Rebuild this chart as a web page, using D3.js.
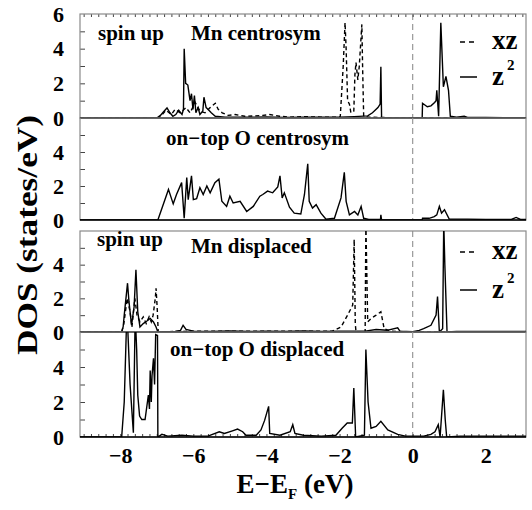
<!DOCTYPE html>
<html><head><meta charset="utf-8">
<script src="https://cdn.jsdelivr.net/npm/d3@7"></script>
<style>
html,body{margin:0;padding:0;background:#fff;}
svg{display:block;font-family:"Liberation Serif","Times New Roman",serif;font-weight:bold;}
</style></head>
<body>
<svg id="chart" width="532" height="510"></svg>
<script>
// ---------- DATA (energy in eV, DOS in states/eV) ----------
const xTickLabels = [-8, -6, -4, -2, 0, 2];
const yTickLabels = [0, 2, 4, 6];
const seriesNames = ["xz", "z2"];

// Panel 1: Mn centrosym, spin up
const mnCentroZ2 = [[-9.1,0],[-7.0,0],[-6.9,0.15],[-6.82,0.35],[-6.72,0.58],[-6.64,0.3],[-6.56,0.1],[-6.48,0.2],[-6.40,0.45],[-6.31,0.2],[-6.27,0.5],[-6.25,4.0],[-6.21,2.0],[-6.15,1.9],[-6.09,1.0],[-6.05,1.4],[-6.01,0.5],[-5.97,1.3],[-5.93,0.3],[-5.87,0.6],[-5.82,0.2],[-5.74,0.4],[-5.71,1.2],[-5.65,0.6],[-5.60,0.5],[-5.51,0.3],[-5.40,0.1],[-5.13,0.05],[-4.6,0.04],[-4.0,0.06],[-3.5,0.03],[-3.0,0.05],[-2.5,0.04],[-2.0,0.05],[-1.6,0.08],[-1.23,0.12],[-1.1,0.3],[-0.95,0.6],[-0.89,0.8],[-0.87,2.95],[-0.85,0],[0.26,0],[0.27,0.85],[0.4,0.65],[0.5,0.7],[0.6,0.9],[0.64,1.0],[0.66,1.6],[0.71,0.1],[0.77,5.5],[0.84,1.8],[0.91,2.4],[0.98,1.6],[1.03,0.1],[1.2,0.05],[1.41,0.1],[1.5,0.03],[2.0,0.03],[2.5,0.02],[3.1,0.02]];
const mnCentroXZ = [[-9.1,0],[-6.95,0],[-6.85,0.2],[-6.75,0.45],[-6.6,0.2],[-6.5,0.5],[-6.36,0.3],[-6.2,0.6],[-6.09,0.3],[-5.95,0.9],[-5.82,0.4],[-5.68,0.3],[-5.54,0.6],[-5.40,0.85],[-5.32,0.5],[-5.21,0.3],[-5.05,0.15],[-4.86,0.2],[-4.59,0.1],[-4.31,0.12],[-4.10,0.15],[-3.91,0.2],[-3.64,0.1],[-3.37,0.05],[-3.0,0.08],[-2.5,0.05],[-2.0,0.05],[-1.98,0.1],[-1.9,3.0],[-1.85,5.5],[-1.82,4.0],[-1.78,1.0],[-1.73,0.8],[-1.69,0.3],[-1.61,0.4],[-1.58,2.5],[-1.55,3.2],[-1.50,2.2],[-1.46,3.0],[-1.39,5.4],[-1.37,3.0],[-1.34,0.1],[-1.2,0.05],[-0.9,0.03],[0,0],[3.1,0]];

// Panel 2: on-top O centrosym
const oCentro = [[-9.1,0],[-6.97,0],[-6.68,1.8],[-6.55,0.95],[-6.46,1.5],[-6.32,2.2],[-6.25,0.1],[-6.18,2.5],[-6.14,1.2],[-6.05,2.6],[-6.00,1.2],[-5.91,1.25],[-5.82,1.9],[-5.73,1.5],[-5.63,2.0],[-5.54,1.6],[-5.41,2.2],[-5.30,2.4],[-5.22,1.1],[-5.09,0.8],[-5.00,1.4],[-4.91,1.0],[-4.72,1.1],[-4.54,0.5],[-4.36,0.8],[-4.18,1.4],[-4.10,1.5],[-3.97,1.7],[-3.83,1.6],[-3.69,1.95],[-3.63,2.6],[-3.57,1.3],[-3.51,1.6],[-3.37,0.75],[-3.24,0.4],[-3.06,0.35],[-2.96,1.5],[-2.87,3.3],[-2.83,1.1],[-2.74,0.7],[-2.64,0.9],[-2.51,0.4],[-2.37,0.05],[-2.14,0.1],[-1.96,1.3],[-1.87,2.8],[-1.82,1.1],[-1.73,0.3],[-1.59,0.5],[-1.50,0.3],[-1.41,0.8],[-1.34,0.1],[-1.2,0.03],[-0.88,0.03],[-0.87,0.3],[-0.85,0],[0.26,0],[0.27,0.1],[0.45,0.1],[0.59,0.2],[0.66,0.3],[0.73,0.8],[0.79,0.4],[0.87,0.6],[1.0,0.05],[1.5,0.05],[2.0,0.03],[2.7,0.03],[2.83,0.15],[2.95,0.03],[3.1,0.03]];

// Panel 3: Mn displaced, spin up
const mnDispZ2 = [[-9.1,0],[-7.96,0],[-7.92,0.3],[-7.89,1.0],[-7.80,2.9],[-7.76,1.8],[-7.69,0.4],[-7.62,1.5],[-7.57,3.7],[-7.52,1.2],[-7.46,0.3],[-7.37,0.5],[-7.27,0.65],[-7.18,0.8],[-7.09,0.6],[-7.02,0.3],[-6.97,0],[-6.5,0.03],[-6.35,0.1],[-6.28,0.4],[-6.2,0.15],[-6.0,0.05],[-5.5,0.04],[-5.0,0.06],[-4.5,0.03],[-4.0,0.05],[-3.5,0.04],[-3.0,0.06],[-2.5,0.03],[-2.0,0.05],[-1.6,0.05],[-1.3,0.05],[-1.0,0.15],[-0.7,0.1],[-0.41,0.25],[-0.35,0.05],[0,0.02],[0.18,0.1],[0.3,0.2],[0.5,0.4],[0.64,1.0],[0.68,2.1],[0.73,0],[0.82,0.2],[0.85,6.5],[0.88,4.0],[0.94,0],[1.2,0.03],[2.0,0.03],[3.1,0.03]];
const mnDispXZ = [[-9.1,0],[-7.96,0],[-7.90,0.5],[-7.81,2.0],[-7.73,1.2],[-7.68,0.3],[-7.60,2.0],[-7.54,1.0],[-7.46,0.6],[-7.37,0.9],[-7.29,0.5],[-7.21,0.9],[-7.15,0.6],[-7.10,1.0],[-7.04,2.0],[-7.02,2.6],[-6.99,1.5],[-6.96,0],[-6.5,0.03],[-6.0,0.05],[-5.0,0.04],[-4.0,0.05],[-3.0,0.04],[-2.2,0.05],[-1.96,0.3],[-1.78,1.0],[-1.64,1.6],[-1.60,5.5],[-1.57,0.5],[-1.55,0],[-1.3,0],[-1.28,6.5],[-1.23,0.6],[-1.14,0.8],[-1.00,1.0],[-0.87,1.2],[-0.78,0.2],[-0.6,0.05],[0,0],[3.1,0]];

// Panel 4: on-top O displaced
const oDisp = [[-9.1,0],[-7.96,0],[-7.89,2.0],[-7.82,7],[-7.79,6],[-7.73,3],[-7.64,0.25],[-7.59,7],[-7.55,5],[-7.52,2.4],[-7.47,1.2],[-7.41,1.0],[-7.32,1.0],[-7.23,2.4],[-7.20,1.6],[-7.18,3.8],[-7.15,2.0],[-7.13,3.5],[-7.09,4.5],[-7.06,3.0],[-7.03,5.85],[-6.98,5.8],[-6.97,0],[-6.86,0.15],[-6.7,0.05],[-6.31,0.1],[-6.0,0.05],[-5.6,0.05],[-5.29,0.3],[-5.15,0.2],[-4.93,0.35],[-4.79,0.45],[-4.65,0.3],[-4.56,0.1],[-4.28,0.1],[-4.15,0.4],[-4.05,0.95],[-3.94,1.75],[-3.91,0.2],[-3.63,0.1],[-3.35,0.3],[-3.28,0.7],[-3.22,0.2],[-2.99,0.1],[-2.5,0.05],[-2.1,0.1],[-1.93,0.5],[-1.79,0.8],[-1.65,0.8],[-1.61,2.8],[-1.56,0],[-1.32,0.1],[-1.28,5.0],[-1.22,2.0],[-1.14,0.5],[-1.0,0.6],[-0.87,0.9],[-0.68,0.4],[-0.41,0.15],[-0.2,0.05],[0.3,0.05],[0.5,0.15],[0.61,0.3],[0.70,0.7],[0.75,0],[0.84,2.7],[0.89,1.0],[0.93,0],[1.3,0.05],[2.0,0.05],[3.1,0.05]];

// ---------- DRAW ----------
const svg = d3.select("#chart");
const x = d3.scaleLinear().domain([-9.1, 3.1]).range([80, 526]);
const frameColor = "#8a8a8a";

const panels = [
  {top:14,  bottom:118, solid:mnCentroZ2, dashed:mnCentroXZ, labels:[["spin up",98,40],["Mn centrosym",191,40]], legend:{y1:42,y2:77}, topLabel:true,  topTicks:true},
  {top:118, bottom:220, solid:oCentro, labels:[["on\u2212top O centrosym",166,145]]},
  {top:231, bottom:332, solid:mnDispZ2, dashed:mnDispXZ, labels:[["spin up",97,246],["Mn displaced",191,253]], legend:{y1:252,y2:290}},
  {top:332, bottom:437, solid:oDisp, labels:[["on\u2212top O displaced",170,356]], bottomAxis:true}
];

const defs = svg.append("defs");
const minorTicks = d3.range(-9, 3.01, 0.2).map(v => Math.round(v*10)/10).filter(v => v >= -9.1 && v <= 3.1);

panels.forEach((p, i) => {
  const y = d3.scaleLinear().domain([0, 6]).range([p.bottom, p.top]);
  defs.append("clipPath").attr("id", "clip"+i).append("rect")
    .attr("x", 80).attr("y", p.top).attr("width", 446).attr("height", p.bottom - p.top);

  const g = svg.append("g");
  // Fermi level
  g.append("line").attr("x1", x(0)).attr("x2", x(0)).attr("y1", p.top).attr("y2", p.bottom)
    .attr("stroke", "#999").attr("stroke-width", 1.2).attr("stroke-dasharray", "6,4");

  // y axis
  const yAxis = d3.axisLeft(y).tickValues([0,1,2,3,4,5,6]).tickSize(-5).tickPadding(16)
    .tickFormat(d => (d % 2 === 0 && yTickLabels.includes(d) && (d < 6 || p.topLabel)) ? d : "");
  const ya = g.append("g").attr("transform", "translate(80,0)").call(yAxis);
  ya.select(".domain").remove();
  ya.selectAll(".tick line").attr("stroke", "#444");
  ya.selectAll("text").attr("font-size", 22).attr("font-family", "Liberation Serif").attr("font-weight", "bold").attr("fill", "#000");
  ya.selectAll(".tick").filter(d => d === 6 || d === 0).select("line").remove();

  if (p.topTicks) {
    const ta = g.append("g").attr("transform", `translate(0,${p.top})`)
      .call(d3.axisTop(x).tickValues(minorTicks).tickSize(-3).tickFormat(""));
    ta.select(".domain").remove();
    ta.selectAll(".tick line").attr("stroke", "#444");
  }
  if (p.bottomAxis) {
    const ba = g.append("g").attr("transform", `translate(0,${p.bottom})`)
      .call(d3.axisBottom(x).tickValues(minorTicks).tickSize(-3).tickFormat(""));
    ba.select(".domain").remove();
    ba.selectAll(".tick line").attr("stroke", "#444");
    const bl = g.append("g").attr("transform", `translate(0,${p.bottom})`)
      .call(d3.axisBottom(x).tickValues(xTickLabels).tickSize(0).tickPadding(10).tickFormat(d3.format("d")));
    bl.select(".domain").remove();
    bl.selectAll("text").attr("font-size", 22).attr("font-family", "Liberation Serif").attr("font-weight", "bold").attr("fill", "#000");
  }

  // frame
  g.append("rect").attr("x", 80).attr("y", p.top).attr("width", 446).attr("height", p.bottom - p.top)
    .attr("fill", "none").attr("stroke", frameColor).attr("stroke-width", 1.2);

  const line = d3.line().x(d => x(d[0])).y(d => y(d[1]));
  const dg = g.append("g").attr("clip-path", `url(#clip${i})`);
  if (p.dashed) {
    dg.append("path").datum(p.dashed).attr("d", line).attr("fill", "none")
      .attr("stroke", "#000").attr("stroke-width", 1.4).attr("stroke-dasharray", "4,3");
  }
  dg.append("path").datum(p.solid).attr("d", line).attr("fill", "none")
    .attr("stroke", "#000").attr("stroke-width", 1.4);
  // baseline
  g.append("line").attr("x1", 80).attr("x2", 526).attr("y1", y(0)).attr("y2", y(0))
    .attr("stroke", "#000").attr("stroke-width", 1.6);

  p.labels.forEach(([t, lx, ly]) => {
    g.append("text").attr("x", lx).attr("y", ly).attr("font-size", 21).text(t);
  });

  if (p.legend) {
    g.append("line").attr("x1", 460).attr("x2", 477).attr("y1", p.legend.y1).attr("y2", p.legend.y1)
      .attr("stroke", "#000").attr("stroke-width", 1.5).attr("stroke-dasharray", "5,4");
    g.append("text").attr("x", 492).attr("y", p.legend.y1 + 7).attr("font-size", 27).text(seriesNames[0]);
    g.append("line").attr("x1", 460).attr("x2", 477).attr("y1", p.legend.y2).attr("y2", p.legend.y2)
      .attr("stroke", "#000").attr("stroke-width", 1.5);
    const zt = g.append("text").attr("x", 492).attr("y", p.legend.y2 + 8).attr("font-size", 27);
    zt.append("tspan").text("z");
    zt.append("tspan").attr("font-size", 15).attr("dy", -15).attr("dx", 3).text("2");
  }
});

// axis titles
svg.append("text").attr("transform", "translate(37,235) rotate(-90)").attr("text-anchor", "middle")
  .attr("font-size", 29).attr("textLength", 240).attr("lengthAdjust", "spacingAndGlyphs").text("DOS (states/eV)");
const xt = svg.append("text").attr("x", 295).attr("y", 493).attr("text-anchor", "middle").attr("font-size", 27);
xt.append("tspan").text("E\u2212E");
xt.append("tspan").attr("font-size", 15).attr("dy", 6).text("F");
xt.append("tspan").attr("dy", -6).text(" (eV)");
</script>
</body></html>
